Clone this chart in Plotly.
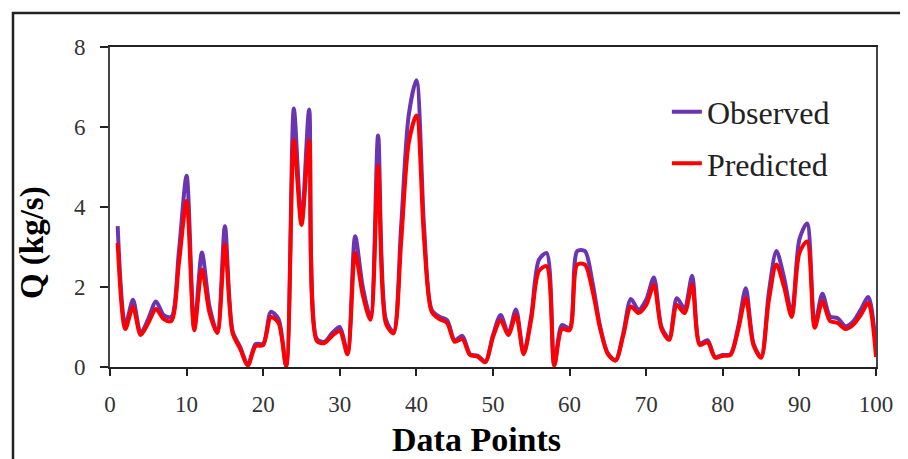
import plotly.graph_objects as go

data_points = list(range(1, 101))

observed = [
    3.52, 1.05, 1.68, 0.85, 1.20, 1.64, 1.30, 1.25, 2.90, 4.78,
    0.97, 2.86, 1.50, 0.88, 3.52, 0.90, 0.50, 0.05, 0.57, 0.58,
    1.38, 1.20, 0.03, 6.46, 3.60, 6.44, 0.70, 0.63, 0.85, 1.00,
    0.35, 3.27, 2.00, 1.26, 5.79, 1.20, 0.88, 3.50, 6.30, 7.17,
    3.50, 1.43, 1.26, 1.17, 0.67, 0.78, 0.32, 0.28, 0.13, 0.80,
    1.30, 0.84, 1.44, 0.34, 1.30, 2.68, 2.85, 0.05, 1.05, 0.97,
    2.90, 2.90, 2.10, 1.00, 0.34, 0.17, 0.84, 1.70, 1.43, 1.68,
    2.24, 1.00, 0.72, 1.72, 1.47, 2.28, 0.59, 0.67, 0.25, 0.30,
    0.32, 1.00, 1.97, 0.59, 0.25, 1.85, 2.90, 2.23, 1.34, 3.19,
    3.59, 1.05, 1.83, 1.26, 1.22, 1.02, 1.13, 1.43, 1.75, 0.46,
]

predicted = [
    3.10, 0.95, 1.50, 0.80, 1.10, 1.45, 1.20, 1.15, 2.60, 4.15,
    0.92, 2.43, 1.35, 0.85, 3.06, 0.85, 0.45, 0.04, 0.52, 0.55,
    1.25, 1.10, 0.02, 5.66, 3.55, 5.66, 0.65, 0.60, 0.78, 0.90,
    0.32, 2.85, 1.80, 1.18, 5.03, 1.10, 0.84, 3.10, 5.60, 6.29,
    3.20, 1.38, 1.20, 1.10, 0.63, 0.70, 0.30, 0.26, 0.12, 0.75,
    1.17, 0.80, 1.30, 0.32, 1.20, 2.40, 2.52, 0.04, 0.95, 0.92,
    2.56, 2.56, 1.90, 0.95, 0.32, 0.16, 0.78, 1.51, 1.35, 1.55,
    2.05, 0.95, 0.68, 1.55, 1.35, 2.06, 0.55, 0.62, 0.23, 0.28,
    0.30, 0.92, 1.72, 0.55, 0.23, 1.65, 2.56, 2.00, 1.25, 2.85,
    3.14, 0.98, 1.64, 1.15, 1.10, 0.95, 1.05, 1.30, 1.60, 0.25,
]

x_ticks = [0, 10, 20, 30, 40, 50, 60, 70, 80, 90, 100]
y_ticks = [0, 2, 4, 6, 8]

FONT = "Liberation Serif"

fig = go.Figure()
fig.add_trace(go.Scatter(
    x=data_points, y=observed, mode="lines", name="Observed",
    legendgroup="obs",
    line=dict(color="#6B34B0", width=4, shape="spline", smoothing=0.8),
))
fig.add_trace(go.Scatter(
    x=data_points, y=predicted, mode="lines", name="Predicted",
    legendgroup="pred",
    line=dict(color="#FF0000", width=4, shape="spline", smoothing=0.8),
))

fig.update_layout(
    width=900, height=451,
    margin=dict(l=102, r=32, t=39, b=92),
    paper_bgcolor="white", plot_bgcolor="white",
    font=dict(family=FONT, color="black", size=23),
    showlegend=True,
    legend=dict(
        x=0.727, y=0.883, xanchor="left", yanchor="top",
        font=dict(family=FONT, size=32, color="#222"),
        bgcolor="rgba(0,0,0,0)", tracegroupgap=7,
    ),
    xaxis=dict(
        range=[0, 100], tickvals=x_ticks, ticks="outside", ticklen=7, tickwidth=2,
        tickcolor="#222", showline=True, linecolor="#222", linewidth=2, mirror=True,
        showgrid=False, zeroline=False, ticklabelstandoff=8,
        tickfont=dict(family=FONT, size=23, color="#333"),
    ),
    yaxis=dict(
        range=[0, 8], tickvals=y_ticks, ticks="outside", ticklen=8, tickwidth=2,
        tickcolor="#222", showline=True, linecolor="#444", linewidth=2, mirror=True,
        showgrid=False, zeroline=False, ticklabelstandoff=10,
        tickfont=dict(family=FONT, size=23, color="#333"),
    ),
    annotations=[
        dict(text="<b>Data Points</b>", xref="paper", yref="paper",
             x=0.478, y=-0.225, xanchor="center", yanchor="middle", showarrow=False,
             font=dict(family=FONT, size=34, color="black")),
        dict(text="<b>Q (kg/s)</b>", xref="paper", yref="paper",
             x=-0.102, y=0.39, xanchor="center", yanchor="middle", showarrow=False,
             textangle=-90, font=dict(family=FONT, size=33, color="black")),
    ],
    shapes=[
        dict(type="rect", xref="paper", yref="paper",
             x0=(13 - 110) / 766, x1=1.2, y0=-0.5, y1=1 + (47 - 13) / 320,
             line=dict(color="#222", width=2.5), fillcolor="rgba(0,0,0,0)", layer="below"),
    ],
)

fig.write_html("out.html")
